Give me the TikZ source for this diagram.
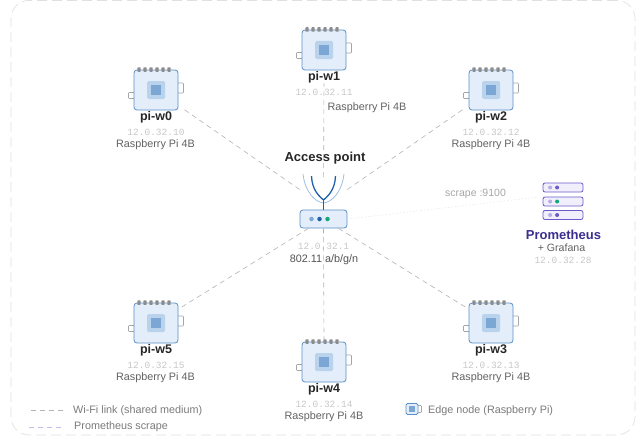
\documentclass[tikz,border=0pt]{standalone}
\usepackage{fontspec}
\setmainfont{Liberation Sans}
\setmonofont{Liberation Mono}
\usepackage{xcolor}
\usetikzlibrary{positioning}
\definecolor{boxfill}{HTML}{E4EEFA}
\definecolor{boxline}{HTML}{5B8FC7}
\definecolor{chiplight}{HTML}{BAD3EC}
\definecolor{chipdark}{HTML}{7CA6D4}
\definecolor{antdark}{HTML}{1F5FAD}
\definecolor{antlight}{HTML}{9DBFE2}
\definecolor{ledgreen}{HTML}{12A87E}
\definecolor{promline}{HTML}{6A5CC8}
\definecolor{promfill}{HTML}{F1EFFB}
\definecolor{promtext}{HTML}{3A2F8F}

\begin{document}
\begin{tikzpicture}[
    x=1pt, y=-1pt,
    pibox/.style={rectangle, draw=boxline, fill=boxfill, rounded corners=3pt, line width=0.8pt, minimum width=44pt, minimum height=40pt, inner sep=0pt},
    chipouter/.style={rectangle, fill=chiplight, rounded corners=1.5pt, minimum size=18pt, inner sep=0pt},
    chipinner/.style={rectangle, fill=chipdark, minimum size=10pt, inner sep=0pt},
    port/.style={rectangle, draw=black!35, fill=white, rounded corners=0.8pt, line width=0.6pt, inner sep=0pt},
    pin/.style={rectangle, fill=black!45, rounded corners=0.6pt, minimum width=3.2pt, minimum height=4.5pt, inner sep=0pt},
    led/.style={circle, minimum size=4.5pt, inner sep=0pt},
    rack/.style={rectangle, draw=promline, fill=promfill, rounded corners=2pt, line width=0.8pt, minimum width=40pt, minimum height=9pt, inner sep=0pt},
    hostname/.style={font=\fontsize{12.5}{14}\selectfont\bfseries, text=black!85, inner sep=0pt},
    ipaddr/.style={font=\fontsize{9.5}{11}\ttfamily, text=black!22, inner sep=0pt},
    model/.style={font=\fontsize{10.8}{12}\selectfont, text=black!62, inner sep=0pt},
    legendtext/.style={font=\fontsize{10.8}{12}\selectfont, text=black!52, inner sep=0pt},
    wifi/.style={draw=black!30, dash pattern=on 5pt off 4pt, line width=0.6pt},
    scrape/.style={draw=promline!18, dash pattern=on 1.5pt off 2pt, line width=0.5pt},
]
\useasboundingbox (0,0) rectangle (644,436);

% Outer frame
\node[draw=black!12, dash pattern=on 10pt off 5pt, rounded corners=18pt, line width=0.7pt, minimum width=624pt, minimum height=434.5pt, inner sep=0pt] (frame) at (323,217.7) {};

% Edge nodes
\foreach \name/\px/\py/\ip/\mx/\my in {
    w0/156/90/10/155.5/145, w1/324/50/11/367/108, w2/491/90/12/491/145,
    w3/491/323/13/491/378, w4/324/362/14/324/417, w5/156/323/15/155.5/378} {
  \node[port, minimum width=6pt, minimum height=10pt] (\name-right) at ({\px+24.5},{\py-2}) {};
  \node[port, minimum width=6pt, minimum height=6pt] (\name-left) at ({\px-24.5},{\py+5.5}) {};
  \node[pibox] (\name) at (\px,\py) {};
  \foreach \i in {0,...,5}
    \node[pin] (\name-pin\i) at ({\px-17+6*\i},{\py-20.5}) {};
  \node[chipouter] (\name-chip) at (\px,\py) {};
  \node[chipinner] (\name-core) at (\px,\py) {};
  \node[hostname] (\name-host) at (\px,{\py+27.5}) {pi-\name};
  \node[ipaddr] (\name-ip) at (\px,{\py+42}) {12.0.32.\ip};
  \node[model] (\name-model) at (\mx,\my) {Raspberry Pi 4B};
}

% Access point
\node[pibox, minimum width=47pt, minimum height=18pt] (ap) at (323.5,219) {};
\node[led, fill=chipdark] (led1) at (311.5,219) {};
\node[led, fill=antdark] (led2) at (319.5,219) {};
\node[led, fill=ledgreen] (led3) at (327.5,219) {};
\coordinate (antbase) at (323.5,200);
\coordinate (anthub) at (323.5,206);
\draw[antlight, line width=0.8pt] (303,174) .. controls (305,192) and (315,202) .. (323.5,203) .. controls (332,202) and (342,192) .. (344,174);
\draw[antdark, line width=1.3pt] (311.5,176) .. controls (312,190) and (319,196) .. (antbase) .. controls (328,196) and (335,190) .. (335.5,176);
\draw[antdark, line width=1pt] (antbase) -- (ap.north);
\node[font=\fontsize{13}{15}\selectfont\bfseries, text=black!85, inner sep=0pt] (aptitle) at (325,158.5) {Access point};
\node[ipaddr] (apip) at (323.5,246) {12.0.32.1};
\node[font=\fontsize{10.8}{12}\selectfont, text=black!68, inner sep=0pt] (apstd) at (324,260) {802.11 a/b/g/n};

% Prometheus
\node[rack] (bar1) at (563,187.5) {};
\node[rack] (bar2) at (563,201.5) {};
\node[rack] (bar3) at (563,215) {};
\foreach \bar/\col in {bar1/promline, bar2/ledgreen, bar3/promline} {
  \node[led, minimum size=4pt, fill=promline!50] (\bar-a) at ([xshift=7.5pt]\bar.west) {};
  \node[led, minimum size=4pt, fill=\col] (\bar-b) at ([xshift=14.5pt]\bar.west) {};
}
\node[font=\fontsize{13}{15}\selectfont\bfseries, text=promtext, inner sep=0pt] (prom) at (563.5,235) {Prometheus};
\node[font=\fontsize{10.6}{12}\selectfont, text=black!62, inner sep=0pt] (graf) at (561.5,247.5) {+ Grafana};
\node[ipaddr] (promip) at (563,260) {12.0.32.28};
\node[font=\fontsize{10.5}{12}\selectfont, text=black!35, inner sep=0pt] (scrapelabel) at (475.5,194) {scrape :9100};

% Links
\draw[wifi, shorten <=29pt, shorten >=4pt] (anthub) -- (w0);
\draw[wifi, shorten <=29pt, shorten >=13pt] (anthub) -- (w1.south);
\draw[wifi, shorten <=29pt, shorten >=4pt] (anthub) -- (w2);
\draw[wifi, shorten >=3pt] (ap) -- (w3);
\draw[wifi] (ap.south) -- (w4.north);
\draw[wifi, shorten >=3pt] (ap) -- (w5);
\draw[scrape, shorten >=4pt] (ap.east) -- (bar2.north west);

% Legend
\coordinate (wifia) at (31,410);
\coordinate (wifib) at (65,410);
\coordinate (scrapea) at (29,427);
\coordinate (scrapeb) at (62,427);
\draw[wifi] (wifia) -- (wifib);
\draw[draw=promline!40, dash pattern=on 5pt off 4pt, line width=0.6pt] (scrapea) -- (scrapeb);
\node[legendtext, anchor=west] (legwifi) at (73,411) {Wi-Fi link (shared medium)};
\node[legendtext, anchor=west] (legscrape) at (74,427) {Prometheus scrape};
\node[port, minimum width=4pt, minimum height=7pt] (legport) at (419.5,409) {};
\node[pibox, minimum width=12pt, minimum height=11pt, rounded corners=1.5pt] (legbox) at (412,409) {};
\node[chipinner, minimum size=6pt] (legcore) at (412,409) {};
\node[legendtext, anchor=west] (legedge) at (428,411) {Edge node (Raspberry Pi)};

\end{tikzpicture}
\end{document}
